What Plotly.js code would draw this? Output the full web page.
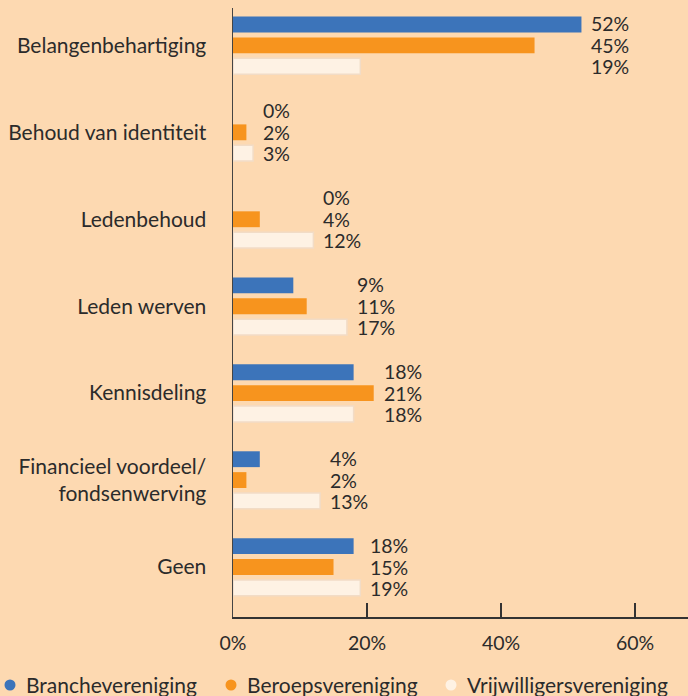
<!DOCTYPE html>
<html>
<head>
<meta charset="utf-8">
<script src="https://cdn.plot.ly/plotly-3.0.1.min.js"></script>
<style>html,body{margin:0;padding:0;background:#fdd9b1;}#chart{width:688px;height:696px;}</style>
</head>
<body>
<div id="chart"></div>
<script>
const categories = ["Belangenbehartiging", "Behoud van identiteit", "Ledenbehoud", "Leden werven", "Kennisdeling", "Financieel voordeel/<br>fondsenwerving", "Geen"];
const seriesNames = ["Branchevereniging", "Beroepsvereniging", "Vrijwilligersvereniging"];
const branche = [52, 0, 0, 9, 18, 4, 18];
const beroeps = [45, 2, 4, 11, 21, 2, 15];
const vrijwilligers = [19, 3, 12, 17, 18, 13, 19];
const xTicks = [0, 20, 40, 60];
const xTickLabels = ["0%", "20%", "40%", "60%"];

const colors = ["#3c74ba", "#f7941e", "#fef2e4"];
const values = [branche, beroeps, vrijwilligers];
const txt = "#2b2b2b";
const font = "Lato, 'Open Sans', sans-serif";

// plot area geometry (pixels) used to place the legend in paper coordinates
const M = {l: 233, r: 0, t: 8, b: 79};
const W = 688, H = 696;
const pw = W - M.l - M.r, ph = H - M.t - M.b;
const px2paperX = p => (p - M.l) / pw;
const py2paperY = p => (H - M.b - p) / ph;
const legendDotX = [10, 231, 451];
const legendY = 684;

const traces = values.map((v, k) => ({
  type: "bar", orientation: "h", x: v, y: categories, name: seriesNames[k],
  marker: {color: colors[k], line: {color: k === 2 ? "#f2dcc6" : colors[k], width: k === 2 ? 1.5 : 0}},
  showlegend: false, hoverinfo: "x+y"
}));

const annotations = [];
categories.forEach((c, i) => {
  const mx = Math.max(branche[i], beroeps[i], vrijwilligers[i]);
  values.forEach((v, k) => annotations.push({
    x: mx, y: c, xref: "x", yref: "y", xanchor: "left", yanchor: "middle",
    xshift: 8, yshift: (1 - k) * 21.5,
    text: v[i] + "%", showarrow: false, align: "left",
    font: {family: font, size: 19.5, color: txt}
  }));
});

const shapes = [];
seriesNames.forEach((n, k) => {
  annotations.push({
    x: px2paperX(legendDotX[k] + 14), y: py2paperY(legendY), xref: "paper", yref: "paper",
    xanchor: "left", yanchor: "middle", text: n, showarrow: false,
    font: {family: font, size: 21, color: txt}
  });
  shapes.push({
    type: "circle", xref: "paper", yref: "paper", xsizemode: "pixel", ysizemode: "pixel",
    xanchor: px2paperX(legendDotX[k]), yanchor: py2paperY(legendY + 1),
    x0: -5.5, x1: 5.5, y0: -5.5, y1: 5.5,
    fillcolor: colors[k], line: {width: 0}
  });
});

const layout = {
  width: W, height: H,
  paper_bgcolor: "#fdd9b1", plot_bgcolor: "#fdd9b1",
  margin: M,
  barmode: "group", bargap: 0.28, bargroupgap: 0.24,
  font: {family: font, color: txt},
  xaxis: {
    range: [0, 67.9], tickvals: xTicks, ticktext: xTickLabels,
    showgrid: false, zeroline: false, showline: true, linecolor: "#333", linewidth: 1.5,
    ticks: "inside", ticklen: 14, tickcolor: "#333", tickwidth: 1.5,
    tickfont: {family: font, size: 19.5, color: txt}, ticklabelstandoff: 8, fixedrange: true
  },
  yaxis: {
    type: "category", range: [6.575, -0.43],
    showgrid: false, zeroline: false, showline: true, linecolor: "#444", linewidth: 1.5,
    ticks: "", tickfont: {family: font, size: 21, color: txt}, ticklabelstandoff: 21
  },
  annotations: annotations,
  shapes: shapes,
  showlegend: false
};
Plotly.newPlot("chart", traces, layout, {displayModeBar: false, staticPlot: true});
</script>
</body>
</html>
